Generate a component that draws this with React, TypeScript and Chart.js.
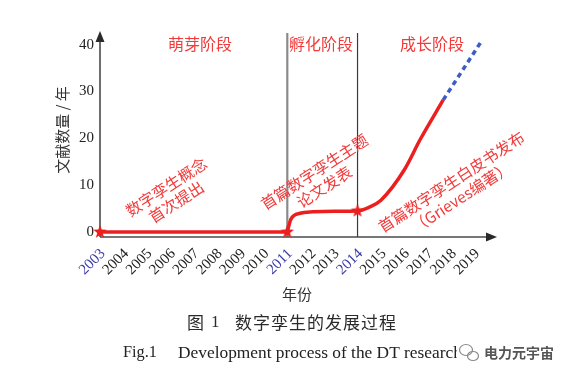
import { useEffect, useRef } from "react";
import { Chart, registerables } from "chart.js";
Chart.register(...registerables);

// ---- data ----
const tickYears = [2003, 2004, 2005, 2006, 2007, 2008, 2009, 2010, 2011, 2012, 2013, 2014, 2015, 2016, 2017, 2018, 2019];
const highlightYears = [2003, 2011, 2014];
const yTickValues = [0, 10, 20, 30, 40];
const flatYears = [2003, 2011];
const flatValues = [0, 0];
const growthYears = [2011, 2011.15, 2011.55, 2012.1, 2013, 2014, 2014.5, 2015, 2016, 2016.67, 2017.66];
const growthValues = [0, 2.7, 4.0, 4.3, 4.45, 4.5, 5.3, 6.8, 13.3, 19.7, 28.2];
const forecastYears = [2017.66, 2019.3];
const forecastValues = [28.2, 40.8];
const milestoneYears = [2003, 2011, 2014];
const milestoneValues = [0, 0, 4.5];
const stageBoundaries = [2011, 2014];
const stageLabels = ["萌芽阶段", "孵化阶段", "成长阶段"];
const milestoneNotes = [
  ["数字孪生概念", "首次提出"],
  ["首篇数字孪生主题", "论文发表"],
  ["首篇数字孪生白皮书发布", "（Grieves编著）"],
];
const yAxisTitle = "文献数量 / 年";
const xAxisTitle = "年份";
const captionCn = ["图", "1", "数字孪生的发展过程"];
const captionEn = ["Fig.1", "Development process of the DT research"];
const watermark = "电力元宇宙";

const RED = "#ec1f1f";
const TEXT_RED = "#f23a3a";
const BLUE = "#3d5cc4";
const SERIF = "'Liberation Serif', 'Times New Roman', serif";
const CJK = "'Noto Sans CJK SC', sans-serif";
const AXIS_OFFSET = 5; // axis line sits a little below the zero level

function toPoints(xs: number[], ys: number[]) {
  return xs.map((x, i) => ({ x, y: ys[i] }));
}

function makeStar(r: number) {
  const c = document.createElement("canvas");
  c.width = r * 2 + 2;
  c.height = r * 2 + 2;
  const g = c.getContext("2d")!;
  const cx = r + 1, cy = r + 1;
  g.beginPath();
  for (let i = 0; i < 10; i++) {
    const rad = i % 2 === 0 ? r : r * 0.42;
    const a = -Math.PI / 2 + (i * Math.PI) / 5;
    const px = cx + rad * Math.cos(a);
    const py = cy + rad * Math.sin(a);
    if (i === 0) g.moveTo(px, py);
    else g.lineTo(px, py);
  }
  g.closePath();
  g.fillStyle = RED;
  g.fill();
  return c;
}

const decorPlugin = {
  id: "decor",
  beforeDatasetsDraw(chart: any) {
    const { ctx, chartArea, scales } = chart;
    const xs = scales.x, ys = scales.y;
    const yAxis = ys.getPixelForValue(0) + AXIS_OFFSET;
    ctx.save();
    // stage boundaries
    stageBoundaries.forEach((yr, i) => {
      const px = xs.getPixelForValue(yr);
      ctx.beginPath();
      ctx.strokeStyle = i === 0 ? "#8a8a8a" : "#3a3a3a";
      ctx.lineWidth = i === 0 ? 2.2 : 1.2;
      ctx.moveTo(px, yAxis);
      ctx.lineTo(px, chartArea.top);
      ctx.stroke();
    });
    // axes
    const left = xs.getPixelForValue(2003);
    ctx.strokeStyle = "#4a4a4a";
    ctx.fillStyle = "#2a2a2a";
    ctx.lineWidth = 1.6;
    ctx.beginPath();
    ctx.moveTo(left, yAxis);
    ctx.lineTo(left, chartArea.top + 6);
    ctx.stroke();
    ctx.beginPath();
    ctx.moveTo(left, chartArea.top - 2);
    ctx.lineTo(left - 4.5, chartArea.top + 9);
    ctx.lineTo(left + 4.5, chartArea.top + 9);
    ctx.closePath();
    ctx.fill();
    ctx.beginPath();
    ctx.moveTo(left, yAxis);
    ctx.lineTo(chartArea.right - 8, yAxis);
    ctx.stroke();
    ctx.beginPath();
    ctx.moveTo(chartArea.right - 1, yAxis);
    ctx.lineTo(chartArea.right - 12, yAxis - 4.5);
    ctx.lineTo(chartArea.right - 12, yAxis + 4.5);
    ctx.closePath();
    ctx.fill();
    ctx.restore();
  },
  afterDraw(chart: any) {
    const { ctx } = chart;
    ctx.save();
    // stage labels
    ctx.fillStyle = TEXT_RED;
    ctx.font = `16px ${CJK}`;
    ctx.textAlign = "center";
    ctx.textBaseline = "middle";
    const stageX = [200, 321, 432];
    stageLabels.forEach((s, i) => ctx.fillText(s, stageX[i], 44));

    // milestone notes (rotated)
    const notePos = [
      { x: 171, y: 194 },
      { x: 319, y: 179 },
      { x: 456, y: 189 },
    ];
    milestoneNotes.forEach((lines, i) => {
      ctx.save();
      ctx.translate(notePos[i].x, notePos[i].y);
      ctx.rotate((-33 * Math.PI) / 180);
      ctx.font = `15.5px ${CJK}`;
      ctx.fillStyle = TEXT_RED;
      ctx.fillText(lines[0], 0, -8.5);
      ctx.fillText(lines[1], 0, 9.5);
      ctx.restore();
    });

    // y axis title
    ctx.save();
    ctx.translate(62, 130);
    ctx.rotate(-Math.PI / 2);
    ctx.fillStyle = "#333";
    ctx.font = `15px ${CJK}`;
    ctx.fillText(yAxisTitle, 0, 0);
    ctx.restore();

    // x axis title
    ctx.fillStyle = "#333";
    ctx.font = `15px ${CJK}`;
    ctx.fillText(xAxisTitle, 297, 294);

    // Chinese caption
    ctx.textAlign = "left";
    ctx.fillStyle = "#2a2a2a";
    ctx.font = `17px ${CJK}`;
    ctx.fillText(captionCn[0], 187, 323);
    ctx.font = `17px ${SERIF}`;
    ctx.fillText(captionCn[1], 211, 323);
    ctx.font = `17px ${CJK}`;
    (ctx as any).letterSpacing = "1px";
    ctx.fillText(captionCn[2], 235, 323);
    (ctx as any).letterSpacing = "0px";

    // English caption
    ctx.font = `15px ${SERIF}`;
    ctx.fillStyle = "#222";
    const w0 = ctx.measureText(captionEn[0]).width;
    const s0 = 15 * (34 / w0);
    ctx.font = `${s0}px ${SERIF}`;
    ctx.fillText(captionEn[0], 123, 353);
    ctx.font = `15px ${SERIF}`;
    const w1 = ctx.measureText(captionEn[1]).width;
    const s1 = 15 * (284 / w1);
    ctx.font = `${s1}px ${SERIF}`;
    ctx.fillText(captionEn[1], 178, 353);

    // watermark
    ctx.fillStyle = "#ffffff";
    ctx.fillRect(457, 338, 114, 30);
    ctx.strokeStyle = "#8a8a8a";
    ctx.lineWidth = 1.2;
    ctx.beginPath();
    ctx.ellipse(466, 350, 6.5, 5.5, 0, 0, Math.PI * 2);
    ctx.stroke();
    ctx.beginPath();
    ctx.ellipse(473, 356, 5.5, 4.5, 0, 0, Math.PI * 2);
    ctx.stroke();
    ctx.fillStyle = "#555";
    ctx.font = `bold 14px ${CJK}`;
    ctx.fillText(watermark, 484, 353);
    ctx.restore();
  },
};

export default function App() {
  const ref = useRef<HTMLCanvasElement | null>(null);
  useEffect(() => {
    document.body.style.margin = "0";
    const star = makeStar(7);
    const chart = new Chart(ref.current!, {
      type: "line",
      data: {
        datasets: [
          {
            data: toPoints(flatYears, flatValues),
            borderColor: RED,
            borderWidth: 3.5,
            pointRadius: 0,
            clip: false as any,
          },
          {
            data: toPoints(growthYears, growthValues),
            borderColor: RED,
            borderWidth: 3.5,
            pointRadius: 0,
            cubicInterpolationMode: "monotone",
            clip: false as any,
          },
          {
            data: toPoints(forecastYears, forecastValues),
            borderColor: BLUE,
            borderWidth: 3.5,
            borderDash: [5, 4],
            pointRadius: 0,
            clip: false as any,
          },
          {
            data: toPoints(milestoneYears, milestoneValues),
            showLine: false,
            pointStyle: star as any,
            pointRadius: 7,
            clip: false as any,
          },
        ],
      },
      options: {
        responsive: false,
        animation: false,
        devicePixelRatio: 1,
        layout: { padding: { left: 0, right: 73, top: 33, bottom: 0 } },
        plugins: { legend: { display: false }, tooltip: { enabled: false } },
        scales: {
          x: {
            type: "linear",
            min: 2003,
            max: 2020,
            grid: { display: false, drawTicks: false },
            border: { display: false },
            afterBuildTicks: (s: any) => {
              s.ticks = tickYears.map((v) => ({ value: v }));
            },
            afterFit: (s: any) => {
              s.height = 142;
            },
            ticks: {
              autoSkip: false,
              minRotation: 45,
              maxRotation: 45,
              padding: 13,
              labelOffset: 3,
              font: { size: 15, family: SERIF },
              color: (c: any) => (highlightYears.includes(c.tick.value) ? "#3a3aa8" : "#222"),
              callback: (v: any) => String(v),
            },
          },
          y: {
            type: "linear",
            min: 0,
            max: 42.5,
            grid: { display: false, drawTicks: false },
            border: { display: false },
            afterBuildTicks: (s: any) => {
              s.ticks = yTickValues.map((v) => ({ value: v }));
            },
            afterFit: (s: any) => {
              s.width = 100;
            },
            ticks: {
              padding: 6,
              font: { size: 15, family: SERIF },
              color: "#222",
              callback: (v: any) => String(v),
            },
          },
        },
      },
      plugins: [decorPlugin],
    });
    return () => chart.destroy();
  }, []);
  return <canvas ref={ref} width={571} height={374} style={{ display: "block" }} />;
}
